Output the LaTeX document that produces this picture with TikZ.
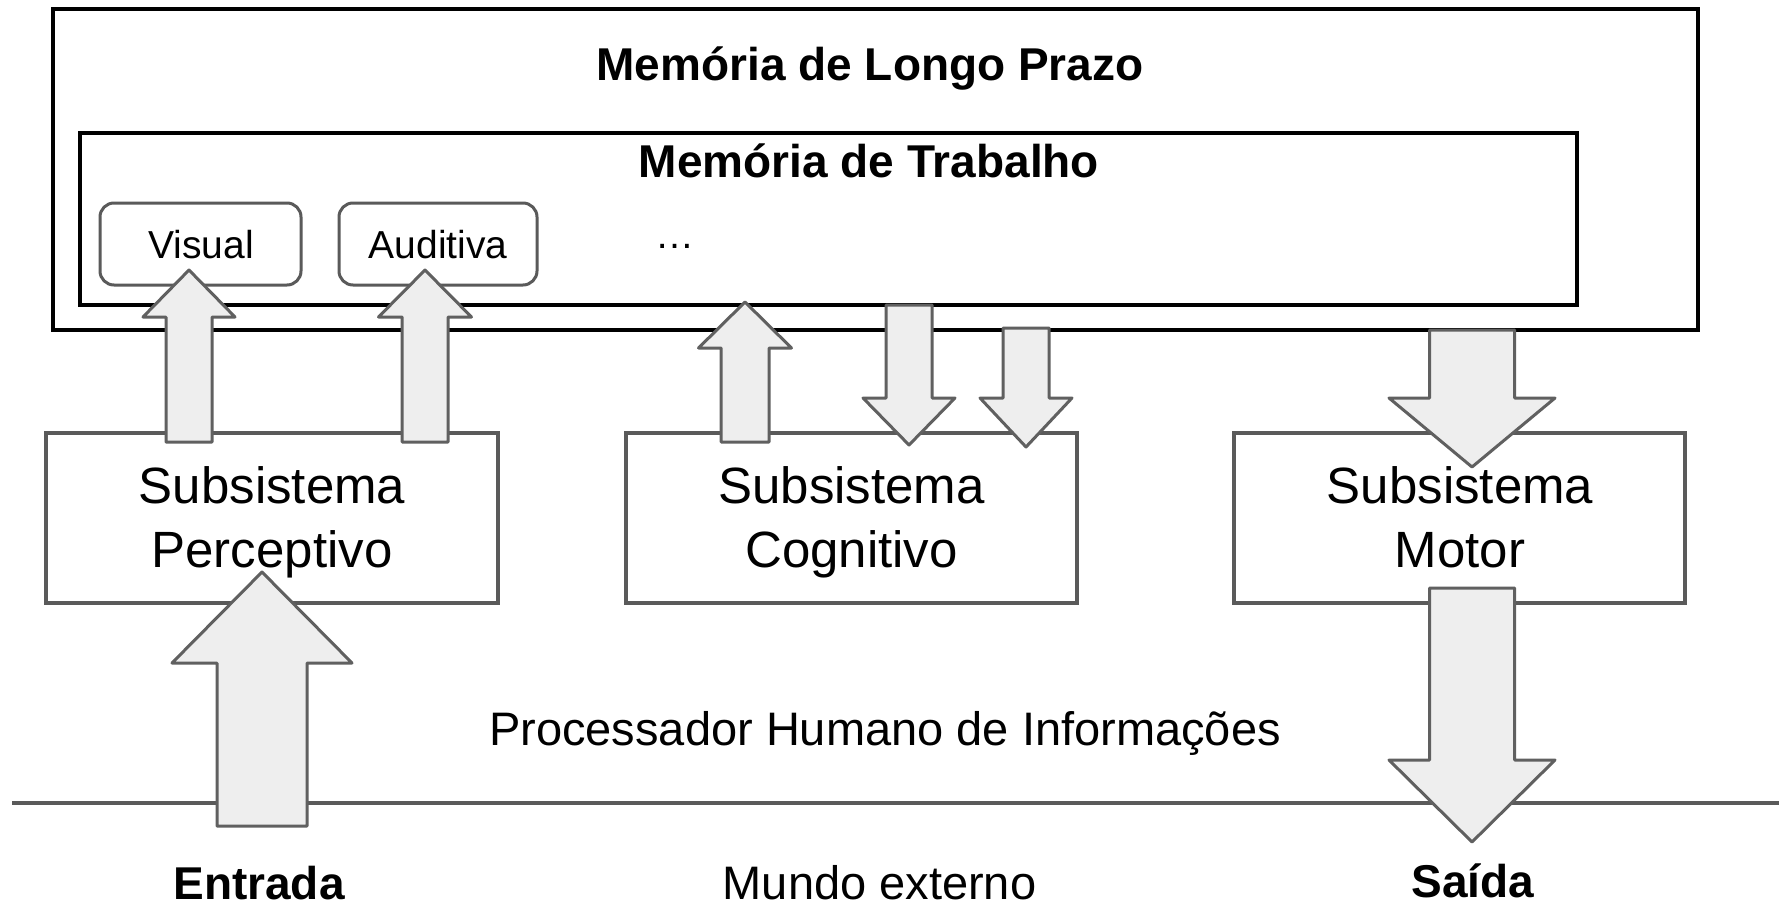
\documentclass[tikz,border=0pt]{standalone}
\usepackage{fontspec}
\setmainfont{Liberation Sans}
\definecolor{boxgray}{HTML}{5A5A5A}
\definecolor{arrowfill}{HTML}{EEEEEE}
\definecolor{arrowline}{HTML}{606060}
\tikzset{
  membox/.style={draw=black, line width=4.5pt, inner sep=0pt, fill=white},
  subbox/.style={draw=boxgray, line width=4.5pt, inner sep=0pt, fill=white},
  modbox/.style={draw=boxgray, line width=3pt, rounded corners=14pt, inner sep=0pt, fill=white},
  blk/.style={draw=arrowline, fill=arrowfill, line width=3pt, line join=round},
  titletext/.style={anchor=base, inner sep=0pt, font=\fontsize{46}{50}\selectfont\bfseries},
  subtext/.style={anchor=base, inner sep=0pt, font=\fontsize{51}{60}\selectfont},
  modtext/.style={anchor=base, inner sep=0pt, font=\fontsize{39}{44}\selectfont},
  plaintext/.style={anchor=base, inner sep=0pt, font=\fontsize{47}{52}\selectfont},
  boldtext/.style={anchor=base, inner sep=0pt, font=\fontsize{46}{52}\selectfont\bfseries},
}
% block arrow: x, start y, head-base y, tip y, shaft half width, head half width
\newcommand{\blkarrow}[6]{%
  \draw[blk] (#1-#5,#2) -- (#1-#5,#3) -- (#1-#6,#3) -- (#1,#4) -- (#1+#6,#3) -- (#1+#5,#3) -- (#1+#5,#2) -- cycle;}
\begin{document}
\begin{tikzpicture}[x=1pt,y=-1pt]
\useasboundingbox (0,0) rectangle (1787,907);
% memories
\node[membox, minimum width=1645pt, minimum height=321pt] (ltm) at (875.4,169.5) {};
\node[titletext] (ltmt) at (870,80) {Memória de Longo Prazo};
\node[membox, minimum width=1497pt, minimum height=172pt] (wm) at (828.7,219) {};
\node[titletext] (wmt) at (869,177) {Memória de Trabalho};
\node[modbox, minimum width=201pt, minimum height=82pt] (vis) at (200.5,244) {};
\node[modtext] (vist) at (201,258) {Visual};
\node[modbox, minimum width=198pt, minimum height=82pt] (aud) at (438,244) {};
\node[modtext] (audt) at (438,258) {Auditiva};
\node[modtext] (dots) at (675,248) {…};
% subsystems
\node[subbox, minimum width=452pt, minimum height=170pt] (perc) at (272,518) {};
\node[subtext] (percA) at (272,503) {Subsistema};
\node[subtext] (percB) at (272,567) {Perceptivo};
\node[subbox, minimum width=451pt, minimum height=170pt] (cog) at (851.5,518) {};
\node[subtext] (cogA) at (851.5,503) {Subsistema};
\node[subtext] (cogB) at (851.5,567) {Cognitivo};
\node[subbox, minimum width=451pt, minimum height=170pt] (mot) at (1459.5,518) {};
\node[subtext] (motA) at (1460,503) {Subsistema};
\node[subtext] (motB) at (1460,567) {Motor};
% labels
\node[plaintext] (php) at (885,745) {Processador Humano de Informações};
\coordinate (lineL) at (12,803);
\coordinate (lineR) at (1779,803);
\draw[boxgray, line width=4pt] (lineL) -- (lineR);
\node[boldtext] (ent) at (259,899) {Entrada};
\node[plaintext] (mundo) at (879.5,899) {Mundo externo};
\node[boldtext] (sai) at (1473,897) {Saída};
% block arrows
\blkarrow{189}{442}{317}{270}{23}{46}
\blkarrow{425}{442}{317}{270}{23}{46.5}
\blkarrow{745}{442}{348}{302}{24}{46.5}
\blkarrow{909}{305}{398}{445}{23}{46}
\blkarrow{1026}{328}{398}{447}{23}{46}
\blkarrow{1472}{330}{398}{467}{42.5}{83}
\blkarrow{262}{826}{663}{572}{45}{90}
\blkarrow{1472}{588}{760}{842}{42.5}{83}
\end{tikzpicture}
\end{document}
